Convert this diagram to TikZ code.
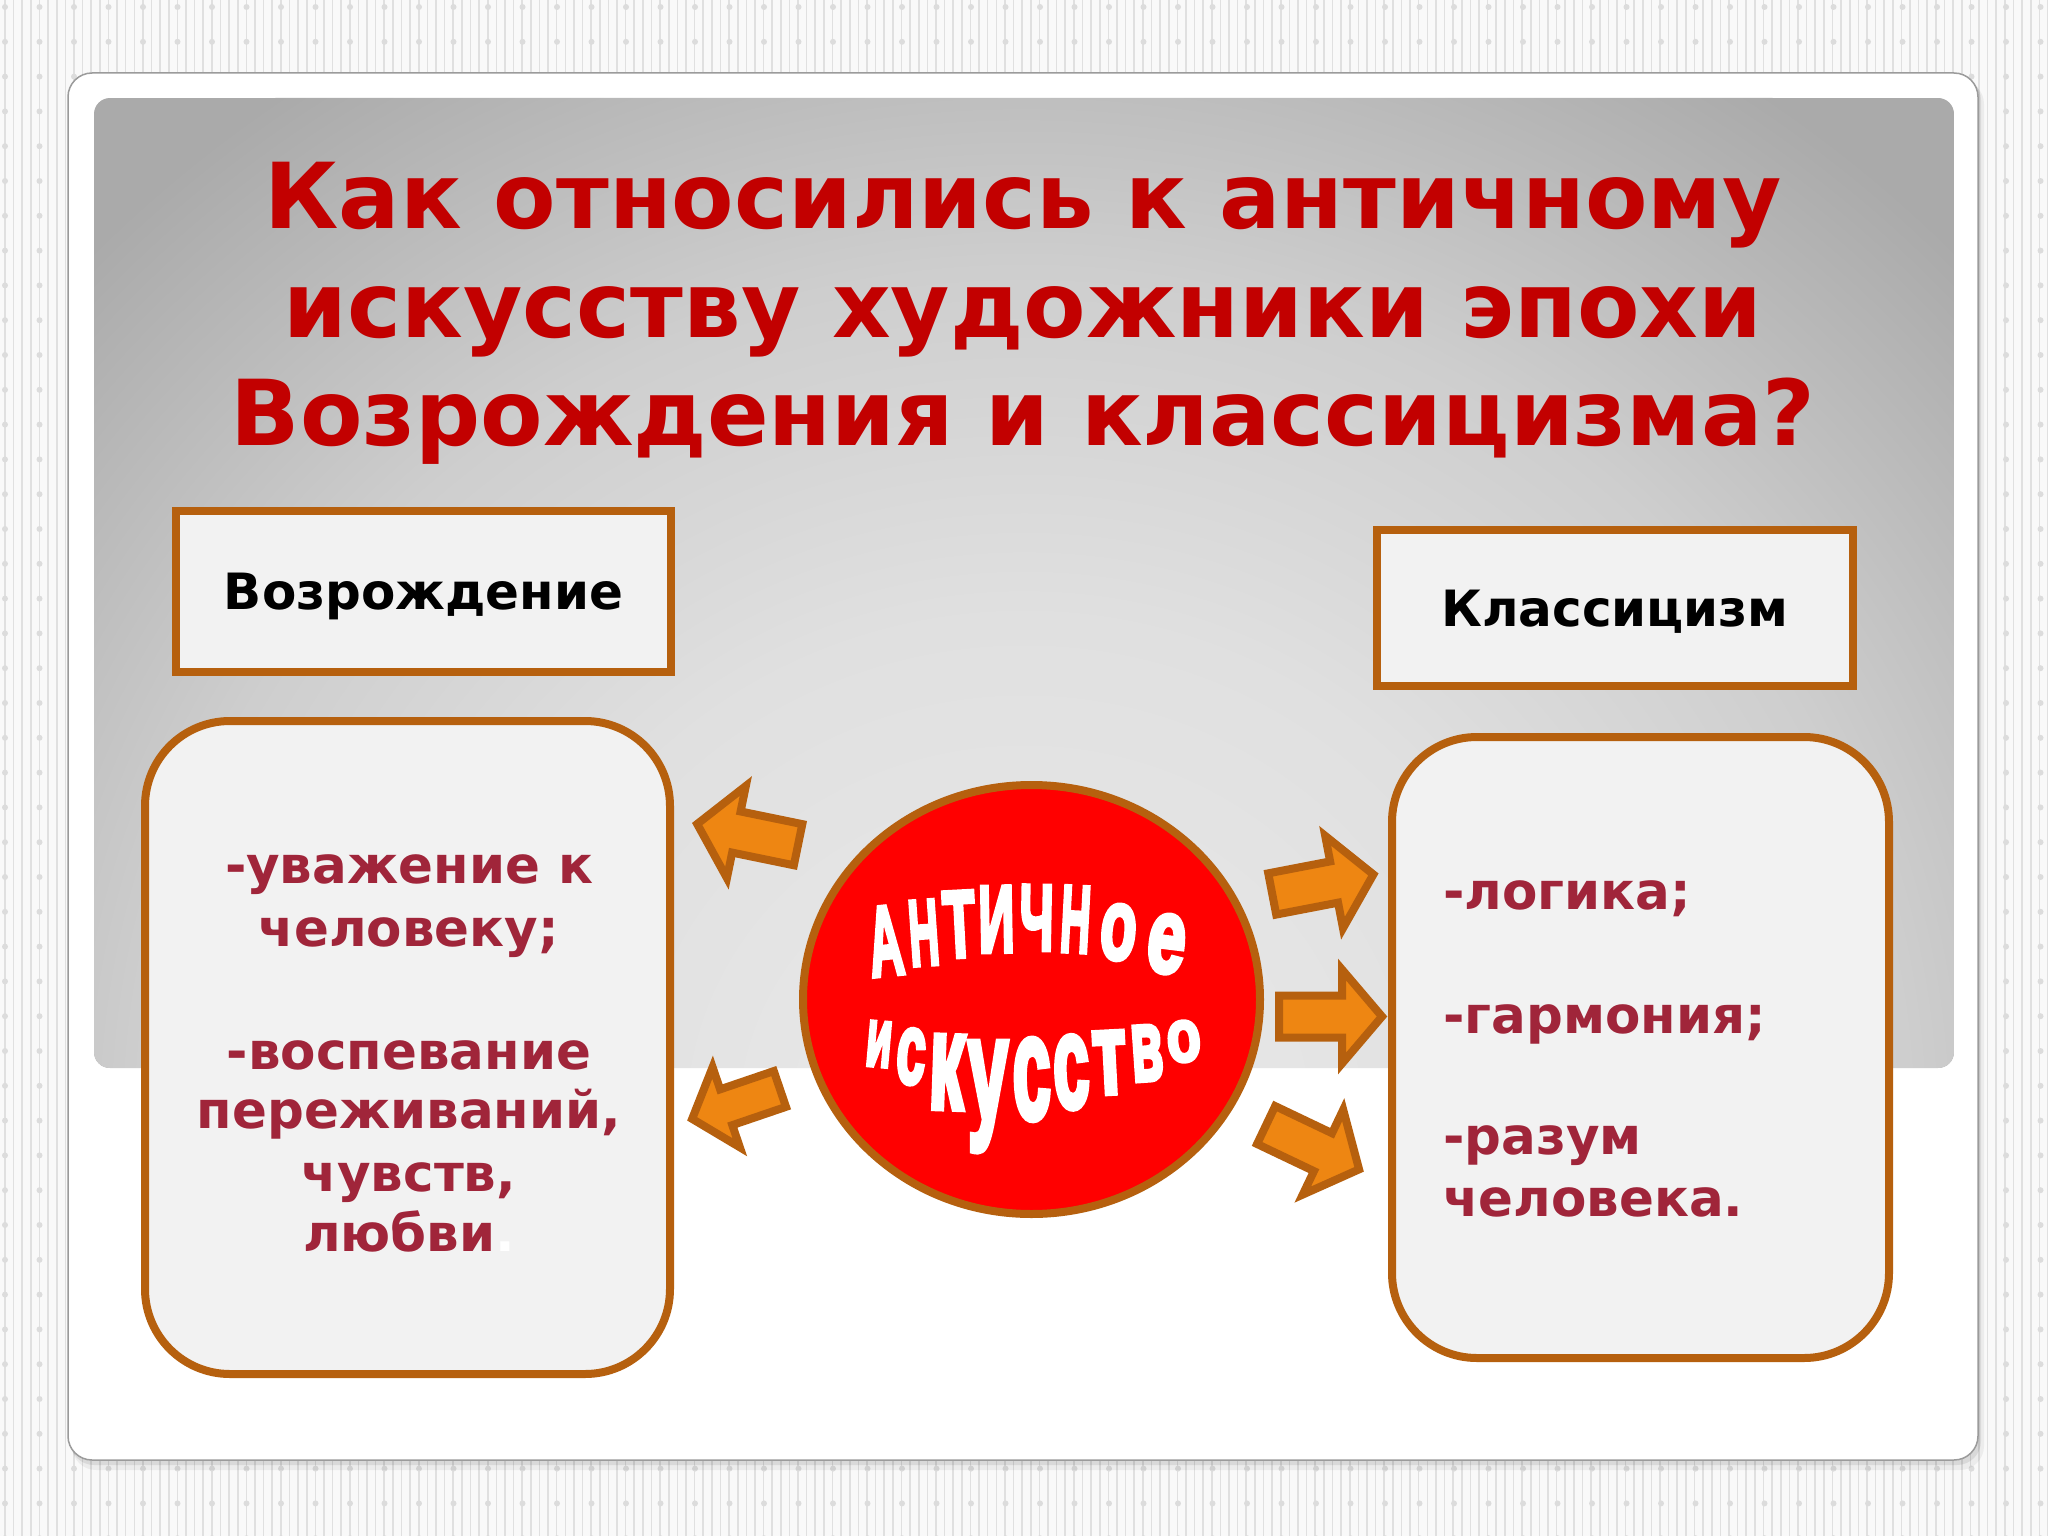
\documentclass[tikz,border=0pt]{standalone}
\usepackage{fontspec}
\usepackage{graphicx}
\setmainfont{DejaVu Sans}
\newfontfamily\wafont[FakeBold=5]{Liberation Sans Bold}
\usetikzlibrary{shapes.geometric}
\definecolor{brownb}{RGB}{182,96,14}
\definecolor{orangef}{RGB}{238,134,18}
\definecolor{boxfill}{RGB}{242,242,242}
\definecolor{titlered}{RGB}{194,0,0}
\definecolor{bodyred}{RGB}{160,37,58}
\definecolor{bgwhite}{RGB}{249,249,249}
\definecolor{stripec}{RGB}{224,224,224}
\definecolor{dotc}{RGB}{220,220,220}
\definecolor{pcA}{RGB}{234,234,234}
\definecolor{pcB}{RGB}{224,224,224}
\definecolor{pcC}{RGB}{206,206,206}
\definecolor{pcD}{RGB}{188,188,188}
\definecolor{pcE}{RGB}{170,170,170}
\pgfdeclareradialshading{panelshade}{\pgfpoint{0bp}{0bp}}{color(0bp)=(pcA); color(10bp)=(pcB); color(17bp)=(pcC); color(21bp)=(pcD); color(25bp)=(pcE); color(50bp)=(pcE)}
\newcommand{\blockarr}[4]{\draw[blockarrow, shift={(#1,#2)}, rotate=#3, scale=#4] (4,-21) -- (67,-21) -- (67,-47) -- (107,0) -- (67,47) -- (67,21) -- (4,21) -- cycle;}
\tikzset{
 titletxt/.style={text=titlered, font=\bfseries\fontsize{91}{109}\selectfont, anchor=base, inner sep=0pt},
 bodytxt/.style={text=bodyred, font=\bfseries\fontsize{51.5}{62}\selectfont, anchor=base, inner sep=0pt},
 labelbox/.style={draw=brownb, fill=boxfill, line width=8pt, inner sep=0pt, text=black, font=\bfseries\fontsize{50}{60}\selectfont, text height=36pt, text depth=0pt},
 roundbox/.style={draw=brownb, fill=boxfill, line width=8pt, rounded corners=85pt, inner sep=0pt},
 blockarrow/.style={draw=brownb, fill=orangef, line width=8pt, line join=miter},
 wa/.style={text=white, font=\wafont, inner sep=0pt},
}
\begin{document}
\begin{tikzpicture}[x=1pt, y=-1pt]
\useasboundingbox (0,0) rectangle (2048,1536);
% background pattern
\fill[bgwhite] (0,0) rectangle (2048,1536);
\foreach \i in {0,...,237} \draw[stripec, line width=1.6pt] ({5+8.62*\i},0) -- ++(0,1536);
\foreach \i in {0,...,59} \foreach \j in {0,...,44} \fill[dotc] ({5+34.5*\i},{7+34.8*\j}) circle (3);
% slide
\fill[black, opacity=0.05, rounded corners=24pt] (72,80) rectangle (1984,1470);
\fill[black, opacity=0.08, rounded corners=24pt] (70,76) rectangle (1981,1465);
\draw[fill=white, draw={rgb,255:red,155;green,155;blue,155}, line width=1.5pt, rounded corners=24pt] (68,73) rectangle (1978,1460);
% gray panel
\begin{scope}
\clip[rounded corners=16pt] (94,98) rectangle (1954,1068);
\fill[pcE] (94,98) rectangle (1954,1068);
\shade[shading=panelshade] (1024,1120) ellipse (1300 and 1250);
\end{scope}
% title
\node[titletxt] (t1) at (1023,228) {Как относились к античному};
\node[titletxt] (t2) at (1023,337) {искусству художники эпохи};
\node[titletxt] (t3) at (1023,445) {Возрождения и классицизма?};
% label boxes
\node[labelbox, minimum width=495pt, minimum height=161pt] (vozr) at (423.5,591.5) {Возрождение};
\node[labelbox, minimum width=476pt, minimum height=156pt] (klas) at (1615,608) {Классицизм};
% rounded boxes
\node[roundbox, minimum width=525pt, minimum height=653pt] (lbox) at (407.5,1047.5) {};
\node[roundbox, minimum width=497pt, minimum height=621pt] (rbox) at (1640.5,1047.5) {};
% left text
\node[bodytxt] (l1) at (409,883) {-уважение к};
\node[bodytxt] (l2) at (409,946) {человеку;};
\node[bodytxt] (l3) at (409,1069) {-воспевание};
\node[bodytxt] (l4) at (409,1128) {переживаний,};
\node[bodytxt] (l5) at (409,1191) {чувств,};
\node[bodytxt] (l6) at (409,1251) {любви\textcolor{white}{.}};
% right text
\node[bodytxt, anchor=base west] (r1) at (1443,909) {-логика;};
\node[bodytxt, anchor=base west] (r2) at (1443,1033) {-гармония;};
\node[bodytxt, anchor=base west] (r3) at (1443,1154) {-разум};
\node[bodytxt, anchor=base west] (r4) at (1443,1216) {человека.};
% central circle
\node[ellipse, draw=brownb, fill=red, line width=8pt, minimum width=457pt, minimum height=429pt, inner sep=0pt] (circ) at (1031.5,999.5) {};
% word art line 1
\foreach \c/\x/\y/\h/\w/\r [count=\n] in {А/889/975/68/34/6, Н/926/965/64/30/4, Т/961/957/65/32/3, И/997/952/65/36/1, Ч/1036/950/64/34/-1, Н/1074/952/65/30/-3, о/1116/960/54/36/-5, е/1163/973/57/38/-7}
  \node[wa, rotate=\r, anchor=south] (wa\n) at (\x,\y) {\resizebox{\w pt}{\h pt}{\c}};
% word art line 2
\foreach \c/\x/\y/\h/\w/\r [count=\n] in {и/881/1022/44/26/-5, с/913/1029/54/29/-4, к/948/1036/72/35/-2, у/988/1042/78/40/0, с/1031/1039/79/38/1, с/1070/1036/71/36/2, т/1108/1032/61/34/3, в/1145/1026/54/32/4, о/1182/1021/40/34/5}
  \node[wa, rotate=\r, anchor=north] (wb\n) at (\x,\y) {\resizebox{\w pt}{\h pt}{\c}};
% block arrows
\blockarr{802}{845.5}{168.4}{1}
\blockarr{783.3}{1087.8}{198.8}{0.9}
\blockarr{1268.3}{894.7}{10.9}{1}
\blockarr{1275}{1016.5}{0}{1}
\blockarr{1262.5}{1123.3}{-25.5}{1}
\end{tikzpicture}
\end{document}
